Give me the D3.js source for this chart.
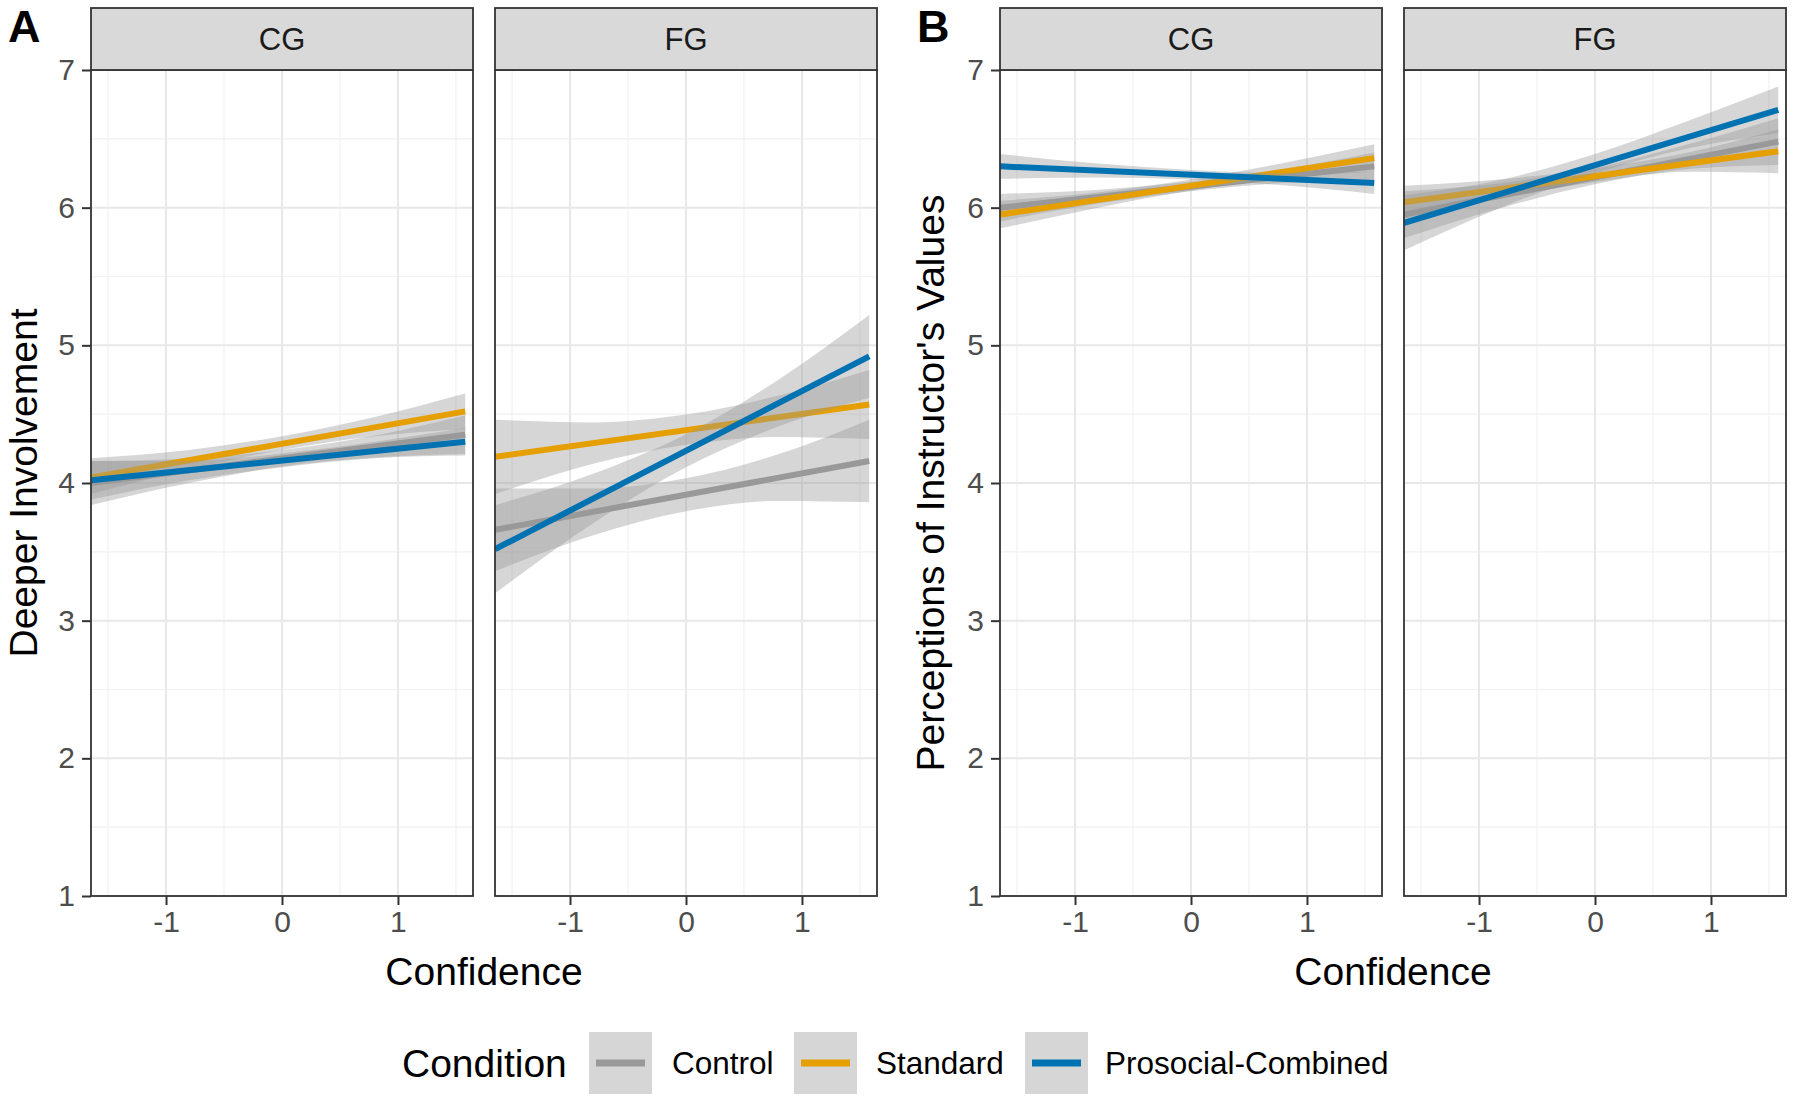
<!DOCTYPE html>
<html>
<head>
<meta charset="utf-8">
<script src="https://cdn.jsdelivr.net/npm/d3@7"></script>
<style>
  html, body { margin: 0; padding: 0; background: #ffffff; }
  svg { display: block; font-family: "Liberation Sans", Arial, Helvetica, sans-serif; }
</style>
</head>
<body>
<svg id="chart" width="1800" height="1102"></svg>
<script>
// ---------------- DATA ----------------
const panelLetters = ["A", "B"];
const yTitles = ["Deeper Involvement", "Perceptions of Instructor's Values"];
const facets = ["CG", "FG"];
const conditions = ["Control", "Standard", "Prosocial-Combined"];
const conditionColors = ["#999999", "#E69F00", "#0072B2"];
const xTicks = [-1, 0, 1];
const yTicks = [1, 2, 3, 4, 5, 6, 7];
const xTitle = "Confidence";
const legendTitle = "Condition";

// x positions where lines are read (start, end of the fitted lines)
const lineX = [-1.645, 1.58];
// x positions where ribbon bounds were read
const ribbonX = [-1.645, -0.8, 0, 0.8, 1.58];

// Fitted line values at lineX: [condition] -> [start, end]
const fitA_CG = [[4.00, 4.35], [4.04, 4.52], [4.02, 4.30]];
const fitA_FG = [[3.66, 4.16], [4.19, 4.57], [3.52, 4.92]];
const fitB_CG = [[6.00, 6.30], [5.95, 6.36], [6.30, 6.18]];
const fitB_FG = [[5.95, 6.48], [6.04, 6.41], [5.89, 6.71]];

// Confidence band lower / upper at ribbonX
const loA_CG = [[3.84, 4.00, 4.12, 4.185, 4.21], [3.92, 4.10, 4.24, 4.34, 4.39], [3.88, 4.02, 4.115, 4.18, 4.20]];
const hiA_CG = [[4.16, 4.18, 4.24, 4.345, 4.49], [4.18, 4.24, 4.34, 4.48, 4.65], [4.16, 4.16, 4.215, 4.30, 4.40]];
const loA_FG = [[3.36, 3.62, 3.795, 3.87, 3.86], [3.92, 4.14, 4.277, 4.335, 4.32], [3.20, 3.707, 4.114, 4.412, 4.62]];
const hiA_FG = [[3.96, 3.96, 4.035, 4.21, 4.46], [4.46, 4.44, 4.497, 4.635, 4.82], [3.84, 4.067, 4.354, 4.752, 5.22]];
const loB_CG = [[5.90, 6.03, 6.12, 6.18, 6.20], [5.85, 6.00, 6.124, 6.215, 6.26], [6.21, 6.22, 6.204, 6.162, 6.10]];
const hiB_CG = [[6.10, 6.13, 6.19, 6.28, 6.40], [6.05, 6.112, 6.204, 6.325, 6.46], [6.39, 6.32, 6.274, 6.252, 6.26]];
const loB_FG = [[5.78, 6.00, 6.17, 6.28, 6.31], [5.92, 6.07, 6.184, 6.26, 6.25], [5.69, 6.005, 6.25, 6.43, 6.54]];
const hiB_FG = [[6.12, 6.18, 6.29, 6.46, 6.65], [6.16, 6.207, 6.284, 6.40, 6.57], [6.09, 6.205, 6.39, 6.63, 6.88]];

const fits = [[fitA_CG, fitA_FG], [fitB_CG, fitB_FG]];
const los = [[loA_CG, loA_FG], [loB_CG, loB_FG]];
const his = [[hiA_CG, hiA_FG], [hiB_CG, hiB_FG]];

// ---------------- LAYOUT ----------------
const svg = d3.select("#chart");
const panelTop = 70, panelBottom = 896, stripTop = 8;
const panelLefts = [[91, 495], [1000, 1404]];
const panelW = 382;
const tickFont = 30, titleFont = 39, stripFont = 31, legendFont = 31.5;

const y = d3.scaleLinear().domain([1, 7]).range([panelBottom, panelTop]);

const defs = svg.append("defs");

panelLetters.forEach((letter, p) => {
  facets.forEach((facet, f) => {
    const left = panelLefts[p][f];
    const x = d3.scaleLinear().domain([-1.647, 1.647]).range([left, left + panelW]);
    const g = svg.append("g");
    const clipId = `clip-${p}-${f}`;
    defs.append("clipPath").attr("id", clipId)
      .append("rect").attr("x", left).attr("y", panelTop).attr("width", panelW).attr("height", panelBottom - panelTop);

    // minor grid
    const minorX = [-1.5, -0.5, 0.5, 1.5];
    const minorY = [1.5, 2.5, 3.5, 4.5, 5.5, 6.5];
    g.selectAll(".mgx").data(minorX).enter().append("line")
      .attr("x1", d => x(d)).attr("x2", d => x(d)).attr("y1", panelTop).attr("y2", panelBottom)
      .attr("stroke", "#f0f0f0").attr("stroke-width", 1.1);
    g.selectAll(".mgy").data(minorY).enter().append("line")
      .attr("x1", left).attr("x2", left + panelW).attr("y1", d => y(d)).attr("y2", d => y(d))
      .attr("stroke", "#f0f0f0").attr("stroke-width", 1.1);
    // major grid
    g.selectAll(".gx").data(xTicks).enter().append("line")
      .attr("x1", d => x(d)).attr("x2", d => x(d)).attr("y1", panelTop).attr("y2", panelBottom)
      .attr("stroke", "#e8e8e8").attr("stroke-width", 2);
    g.selectAll(".gy").data(yTicks).enter().append("line")
      .attr("x1", left).attr("x2", left + panelW).attr("y1", d => y(d)).attr("y2", d => y(d))
      .attr("stroke", "#e8e8e8").attr("stroke-width", 2);

    // data: ribbon then line per group
    const dg = g.append("g").attr("clip-path", `url(#${clipId})`);
    conditions.forEach((c, ci) => {
      const lo = los[p][f][ci], hi = his[p][f][ci];
      const area = d3.area()
        .x((d, i) => x(ribbonX[i]))
        .y0((d, i) => y(lo[i]))
        .y1((d, i) => y(hi[i]))
        .curve(d3.curveMonotoneX);
      dg.append("path").datum(lo).attr("d", area)
        .attr("fill", "#999999").attr("fill-opacity", 0.4);
      const fit = fits[p][f][ci];
      const line = d3.line().x((d, i) => x(lineX[i])).y(d => y(d));
      dg.append("path").datum(fit).attr("d", line)
        .attr("fill", "none").attr("stroke", conditionColors[ci]).attr("stroke-width", 6);
    });

    // panel border
    g.append("rect").attr("x", left).attr("y", panelTop).attr("width", panelW).attr("height", panelBottom - panelTop)
      .attr("fill", "none").attr("stroke", "#333333").attr("stroke-width", 1.8);

    // strip
    g.append("rect").attr("x", left).attr("y", stripTop).attr("width", panelW).attr("height", panelTop - stripTop)
      .attr("fill", "#d9d9d9").attr("stroke", "#333333").attr("stroke-width", 1.8);
    g.append("text").attr("x", left + panelW / 2).attr("y", (stripTop + panelTop) / 2)
      .attr("dy", "0.36em").attr("text-anchor", "middle")
      .attr("font-size", stripFont).attr("fill", "#1a1a1a").text(facet);

    // x axis
    const xAxis = d3.axisBottom(x).tickValues(xTicks).tickSize(9).tickPadding(6).tickFormat(d3.format("d"));
    const xa = g.append("g").attr("transform", `translate(0,${panelBottom})`).call(xAxis);
    xa.select(".domain").remove();
    xa.selectAll(".tick line").attr("stroke", "#333333").attr("stroke-width", 2);
    xa.selectAll(".tick text").attr("font-size", tickFont).attr("fill", "#4d4d4d")
      .attr("font-family", "Liberation Sans, Arial, sans-serif").text(d => d);

    // y axis only on first facet
    if (f === 0) {
      const yAxis = d3.axisLeft(y).tickValues(yTicks).tickSize(9).tickPadding(7).tickFormat(d3.format("d"));
      const ya = g.append("g").attr("transform", `translate(${left},0)`).call(yAxis);
      ya.select(".domain").remove();
      ya.selectAll(".tick line").attr("stroke", "#333333").attr("stroke-width", 2);
      ya.selectAll(".tick text").attr("font-size", tickFont).attr("fill", "#4d4d4d")
        .attr("font-family", "Liberation Sans, Arial, sans-serif");
    }
  });

  // axis titles
  const l0 = panelLefts[p][0], l1 = panelLefts[p][1] + panelW;
  svg.append("text").attr("x", (l0 + l1) / 2).attr("y", 985)
    .attr("text-anchor", "middle").attr("font-size", titleFont).attr("fill", "#000").text(xTitle);
  const yTitleX = p === 0 ? 37 : 944;
  svg.append("text").attr("transform", `translate(${yTitleX},${(panelTop + panelBottom) / 2}) rotate(-90)`)
    .attr("text-anchor", "middle").attr("font-size", titleFont).attr("fill", "#000").text(yTitles[p]);

  // panel letter
  svg.append("text").attr("x", p === 0 ? 8 : 917).attr("y", 42)
    .attr("font-size", 45).attr("font-weight", "bold").attr("fill", "#000").text(letter);
});

// ---------------- LEGEND ----------------
const legendY = 1063;
svg.append("text").attr("x", 402).attr("y", legendY).attr("dy", "0.36em")
  .attr("font-size", titleFont).attr("fill", "#000").text(legendTitle);
const keyX = [589, 794, 1025];
const textX = [672, 876, 1105];
conditions.forEach((c, i) => {
  svg.append("rect").attr("x", keyX[i]).attr("y", legendY - 31).attr("width", 63).attr("height", 62)
    .attr("fill", "#d6d6d6");
  svg.append("line").attr("x1", keyX[i] + 7).attr("x2", keyX[i] + 56).attr("y1", legendY).attr("y2", legendY)
    .attr("stroke", conditionColors[i]).attr("stroke-width", 7);
  svg.append("text").attr("x", textX[i]).attr("y", legendY).attr("dy", "0.36em")
    .attr("font-size", legendFont).attr("fill", "#000").text(c);
});
</script>
</body>
</html>
